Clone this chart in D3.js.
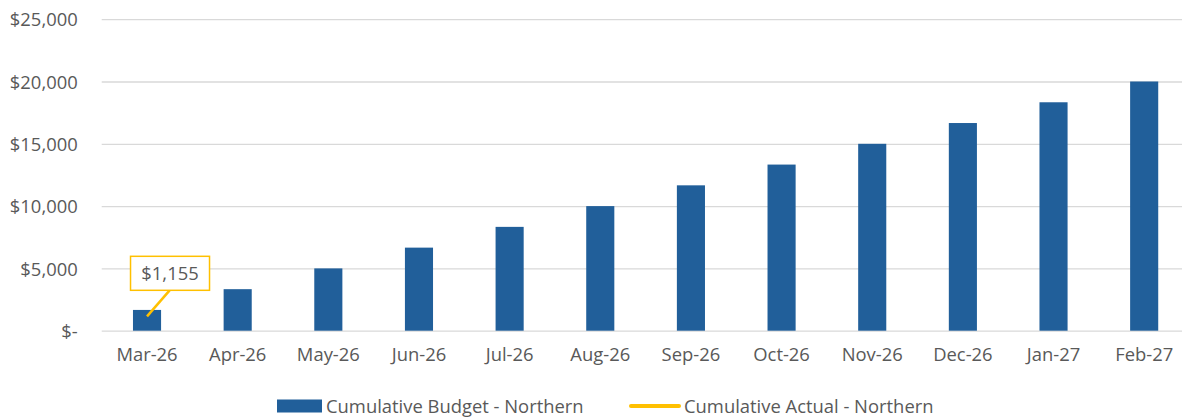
<!DOCTYPE html>
<html>
<head>
  <meta charset="UTF-8">
  <title>Cumulative Budget vs Actual - Northern</title>
  <script src="https://d3js.org/d3.v7.min.js"></script>
  <style>
    body {
      margin: 0;
      padding: 0;
      background: #fff;
      font-family: "Open Sans", sans-serif;
    }
    svg text {
      fill: #595959;
      font-family: "Open Sans", sans-serif;
      font-size: 18.4px;
    }
    .grid line {
      stroke: #d9d9d9;
      stroke-width: 1.3;
    }
  </style>
</head>
<body>
  <div id="chart"></div>

  <script>
    // data
    const months = ["Mar-26", "Apr-26", "May-26", "Jun-26", "Jul-26", "Aug-26",
                    "Sep-26", "Oct-26", "Nov-26", "Dec-26", "Jan-27", "Feb-27"];
    const budget = [1667, 3333, 5000, 6667, 8333, 10000,
                    11667, 13333, 15000, 16667, 18333, 20000];
    const actual = [1155]; // only Mar-26 reported so far
    const yTicks = [0, 5000, 10000, 15000, 20000, 25000];

    const width = 1182;
    const height = 419;
    const plot = { left: 101.7, right: 1189.5, top: 19.2, bottom: 330.7 };

    const svg = d3.select("#chart").append("svg")
      .attr("width", width)
      .attr("height", height);

    const x = d3.scaleBand()
      .domain(months)
      .range([plot.left, plot.right])
      .padding(0);

    const y = d3.scaleLinear()
      .domain([0, 25000])
      .range([plot.bottom, plot.top]);

    const barW = x.bandwidth() * 0.31;

    // gridlines
    svg.append("g")
      .attr("class", "grid")
      .attr("transform", `translate(${plot.left},0)`)
      .call(d3.axisLeft(y).tickValues(yTicks).tickSize(-(plot.right - plot.left)).tickFormat(""))
      .call(g => g.select(".domain").remove());

    // y axis labels
    const yAxis = svg.append("g")
      .attr("transform", `translate(${plot.left},0)`)
      .call(d3.axisLeft(y).tickValues(yTicks).tickSize(0).tickPadding(24)
        .tickFormat(d => d === 0 ? "$-" : "$" + d3.format(",")(d)))
      .attr("font-family", null)
      .attr("font-size", null);
    yAxis.select(".domain").remove();
    yAxis.selectAll("text").attr("dy", "0.36em");

    // bars
    svg.append("g")
      .selectAll("rect")
      .data(months.map((m, i) => ({ month: m, value: budget[i] })))
      .join("rect")
      .attr("x", d => x(d.month) + x.bandwidth() / 2 - barW / 2)
      .attr("width", barW)
      .attr("y", d => y(d.value))
      .attr("height", d => y(0) - y(d.value))
      .attr("fill", "#215f9a");

    // x axis labels
    const xAxis = svg.append("g")
      .attr("transform", `translate(0,${plot.bottom})`)
      .call(d3.axisBottom(x).tickSize(0).tickPadding(17))
      .attr("font-family", null)
      .attr("font-size", null);
    xAxis.select(".domain").remove();

    // actual line (single point so far)
    const line = d3.line()
      .x((d, i) => x(months[i]) + x.bandwidth() / 2)
      .y(d => y(d));

    svg.append("path")
      .datum(actual)
      .attr("fill", "none")
      .attr("stroke", "#ffc000")
      .attr("stroke-width", 3)
      .attr("d", line);

    // data label with leader line
    const last = actual.length - 1;
    const px = x(months[last]) + x.bandwidth() / 2;
    const py = y(actual[last]);
    const lab = { cx: px + 23, top: py - 60, w: 79, h: 34 };

    svg.append("line")
      .attr("x1", px)
      .attr("y1", py)
      .attr("x2", px + 22.6)
      .attr("y2", lab.top + lab.h)
      .attr("stroke", "#ffc000")
      .attr("stroke-width", 2.5);

    svg.append("rect")
      .attr("x", lab.cx - lab.w / 2)
      .attr("y", lab.top)
      .attr("width", lab.w)
      .attr("height", lab.h)
      .attr("fill", "#fff")
      .attr("stroke", "#ffc000")
      .attr("stroke-width", 1.5);

    svg.append("text")
      .attr("x", lab.cx)
      .attr("y", lab.top + lab.h / 2)
      .attr("dy", "0.36em")
      .attr("text-anchor", "middle")
      .text("$" + d3.format(",")(actual[last]));

    // legend
    const legend = svg.append("g").attr("transform", "translate(0,406)");

    legend.append("rect")
      .attr("x", 277)
      .attr("y", -6.5)
      .attr("width", 45)
      .attr("height", 13)
      .attr("fill", "#215f9a");
    legend.append("text")
      .attr("x", 326)
      .attr("dy", "0.36em")
      .text("Cumulative Budget - Northern");

    legend.append("line")
      .attr("x1", 631)
      .attr("x2", 679)
      .attr("stroke", "#ffc000")
      .attr("stroke-width", 4)
      .attr("stroke-linecap", "round");
    legend.append("text")
      .attr("x", 684)
      .attr("dy", "0.36em")
      .text("Cumulative Actual - Northern");
  </script>
</body>
</html>
